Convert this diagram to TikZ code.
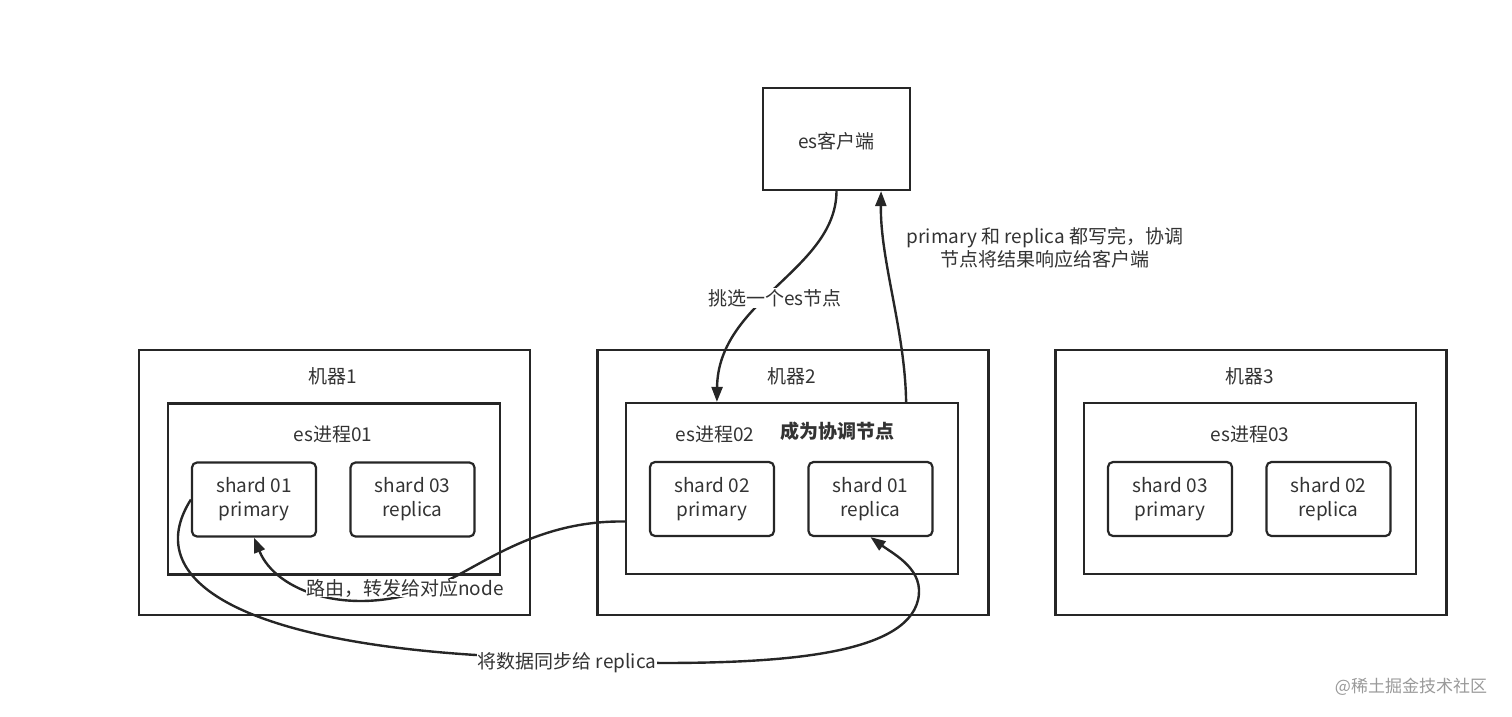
\documentclass[tikz,border=0pt]{standalone}
\usepackage{fontspec}
\newfontfamily\cjk{Noto Sans CJK SC}
\usetikzlibrary{arrows.meta}
\definecolor{ln}{HTML}{262626}
\definecolor{tx}{HTML}{333333}
\tikzset{
  lbl/.style={font=\cjk\fontsize{19}{23}\selectfont, text=tx, inner sep=1pt},
  edgelbl/.style={lbl, fill=white},
  box/.style={draw=ln, line width=2.2pt, inner sep=0pt},
  machine/.style={box, minimum width=391pt, minimum height=265pt},
  proc/.style={box, minimum width=332pt, minimum height=171pt},
  shardbox/.style={box, rounded corners=5pt, minimum width=124pt, minimum height=74pt,
    align=center, font=\cjk\fontsize{19}{24}\selectfont, text=tx},
  conn/.style={draw=ln, line width=2.4pt, -{Triangle[length=15pt,width=11pt]}},
}
\begin{document}
\begin{tikzpicture}[x=1pt,y=-1pt]
\useasboundingbox (0,0) rectangle (1512,716);
% client
\node[box, minimum width=147pt, minimum height=102pt] (client) at (836.5,139) {};
\node[lbl] (clientl) at (836.5,141) {es客户端};
% machines
\node[machine] (m1) at (334.5,482.5) {};
\node[machine] (m2) at (793,482.5) {};
\node[machine] (m3) at (1251,482.5) {};
\node[lbl] (m1l) at (333,376) {机器1};
\node[lbl] (m2l) at (792,376) {机器2};
\node[lbl] (m3l) at (1250,376) {机器3};
% processes
\node[proc] (p1) at (334,489) {};
\node[proc] (p2) at (792,488.5) {};
\node[proc] (p3) at (1250,488.5) {};
\node[lbl] (p1l) at (333,434) {es进程01};
\node[lbl] (p2l) at (715,434) {es进程02};
\node[lbl, font=\cjk\bfseries\fontsize{19}{23}\selectfont] (coord) at (837,431) {成为协调节点};
\node[lbl] (p3l) at (1250,434) {es进程03};
% shards
\node[shardbox] (s1p) at (254,499.5) {shard 01\\primary};
\node[shardbox] (s3r) at (412.5,499.5) {shard 03\\replica};
\node[shardbox] (s2p) at (712,499) {shard 02\\primary};
\node[shardbox] (s1r) at (870.5,499) {shard 01\\replica};
\node[shardbox] (s3p) at (1170,499) {shard 03\\primary};
\node[shardbox] (s2r) at (1328.5,499) {shard 02\\replica};
% connectors
\coordinate (p2in) at ([xshift=92pt]p2.north west);
\coordinate (p2out) at ([xshift=-53pt]p2.north east);
\coordinate (clin) at ([xshift=-30pt]client.south east);
\coordinate (p2left) at ([yshift=-33pt]p2.west);
\draw[conn] (client.south) .. controls (836,270) and (718,300) .. (p2in);
\draw[conn] (p2out) .. controls (905,330) and (880,260) .. (clin);
\draw[conn] (p2left) .. controls (530,520) and (475,572) .. (430,588)
   .. controls (350,618) and (276,592) .. (s1p.south);
\draw[conn] (s1p.west) .. controls (140,580) and (240,640) .. (476,655) -- (660,663)
   .. controls (780,663) and (905,655) .. (918,600)
   .. controls (925,570) and (895,555) .. (s1r.south);
% edge labels
\node[edgelbl] (l1) at (775,298) {挑选一个es节点};
\node[lbl, align=center] (l2) at (1045,248) {primary 和 replica 都写完，协调\\节点将结果响应给客户端};
\node[edgelbl, inner sep=0pt] (l3) at (405,588) {路由，转发给对应node};
\node[edgelbl] (l4) at (567,663) {将数据同步给 replica};
% watermark
\node[font=\cjk\fontsize{17}{20}\selectfont, text=black!40] (wm) at (1411,687) {@稀土掘金技术社区};
\end{tikzpicture}
\end{document}
